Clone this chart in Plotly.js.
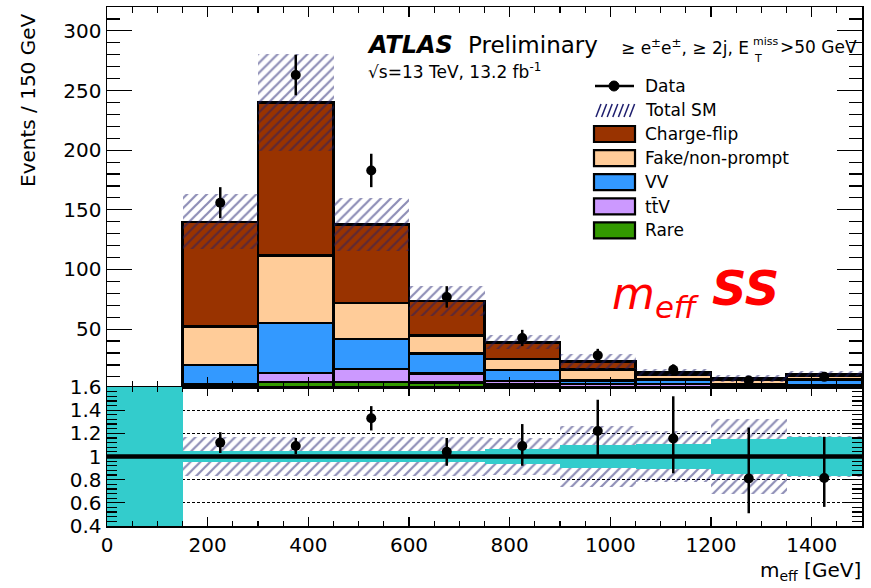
<!DOCTYPE html>
<html>
<head>
<meta charset="utf-8">
<script src="https://cdn.plot.ly/plotly-3.0.1.min.js"></script>
<style>
  html, body { margin: 0; padding: 0; background: #ffffff; }
  #chart { width: 871px; height: 588px; }
</style>
</head>
<body>
<div id="chart"></div>
<script>
// Binning in m_eff [GeV]: lower edges, 150 GeV wide
const binLow = [0, 150, 300, 450, 600, 750, 900, 1050, 1200, 1350];
const binWidth = 150;

// Stacked SM backgrounds, events / 150 GeV (bottom to top)
const rare       = [null, 1.4, 5.9, 5.9, 5.3, 3.4, 1.5, 1.7, 0.7, 1.3];
const ttV        = [null, 2.0, 7.3, 10.6, 7.6, 3.3, 2.5, 2.5, 1.0, 2.0];
const vv         = [null, 16.6, 41.8, 25.2, 16.8, 9.0, 3.0, 3.5, 2.0, 4.5];
const fake       = [null, 32.4, 56.8, 30.0, 14.8, 9.3, 9.0, 4.0, 4.0, 3.0];
const chargeFlip = [null, 87.6, 128.2, 65.8, 28.9, 14.0, 7.0, 2.0, 1.0, 1.5];

// Total SM uncertainty (half width of the hatched band)
const smUnc = [null, 23, 41, 22, 12.5, 6, 6, 3, 2.8, 2.2];

// Observed data
const dataVal = [null, 156, 263, 183, 77, 42.6, 28, 16, 7, 10];
const dataErr = [null, 13, 17, 14, 9, 6.8, 5.5, 4.5, 3, 3.5];

// Data / SM ratio panel
const ratioVal   = [null, 1.12, 1.09, 1.33, 1.04, 1.09, 1.22, 1.155, 0.81, 0.815];
const ratioErrUp = [null, 0.09, 0.07, 0.105, 0.12, 0.19, 0.27, 0.365, 0.44, 0.355];
const ratioErrDn = [null, 0.09, 0.07, 0.105, 0.12, 0.17, 0.22, 0.30, 0.30, 0.25];
const ratioStatBand = [0.6, 0.045, 0.045, 0.045, 0.05, 0.065, 0.10, 0.11, 0.15, 0.17];
const ratioSystBand = [null, 0.165, 0.165, 0.165, 0.165, 0.16, 0.26, 0.22, 0.32, 0.18];

// Legend entries
const legendNames = ['Charge-flip', 'Fake/non-prompt', 'VV', 'tt\u0304V', 'Rare'];
const legendColors = ['#993300', '#FFCC99', '#3399FF', '#CC99FF', '#339900'];

const FONT = 'DejaVu Sans';
const HATCH = '#1e1e6e';
const centers = binLow.map(v => v + binWidth / 2);

// ---- pixel -> paper helpers for decorations (legend, labels) ----
const ML = 107, MR = 9, MT = 7, MB = 62, W = 871, H = 588;
const PX = v => (v - ML) / (W - ML - MR);
const PY = v => (H - MB - v) / (H - MT - MB);
const ratioFrac = 139 / (H - MT - MB);

const hatchPattern = { shape: '/', fgcolor: HATCH, bgcolor: 'rgba(0,0,0,0)',
                       size: 7, solidity: 0.32, fillmode: 'overlay' };

const traces = [];

// stacked backgrounds
const stack = [
  [rare, '#339900'], [ttV, '#CC99FF'], [vv, '#3399FF'],
  [fake, '#FFCC99'], [chargeFlip, '#993300']
];
stack.forEach(([vals, col]) => {
  traces.push({
    type: 'bar', x: centers, y: vals, width: binWidth,
    xaxis: 'x', yaxis: 'y', hoverinfo: 'skip',
    marker: { color: col, line: { color: '#000000', width: 2.5 } }
  });
});

// total SM with hatched uncertainty band
const total = binLow.map((_, i) => i === 0 ? null :
  rare[i] + ttV[i] + vv[i] + fake[i] + chargeFlip[i]);
traces.push({
  type: 'bar', x: centers, width: binWidth,
  base: total.map((t, i) => t === null ? null : t - smUnc[i]),
  y: smUnc.map(u => u === null ? null : 2 * u),
  xaxis: 'x', yaxis: 'y', hoverinfo: 'skip',
  marker: { color: 'rgba(0,0,0,0)', line: { width: 0 }, pattern: hatchPattern }
});

// data points
traces.push({
  type: 'scatter', mode: 'markers', x: centers, y: dataVal,
  xaxis: 'x', yaxis: 'y', cliponaxis: false,
  marker: { color: '#000000', size: 10 },
  error_y: { type: 'data', array: dataErr, color: '#000000', thickness: 2.5, width: 0 }
});

// ratio: systematic (hatched) band
traces.push({
  type: 'bar', x: centers, width: binWidth,
  base: ratioSystBand.map(h => h === null ? null : 1 - h),
  y: ratioSystBand.map(h => h === null ? null : 2 * h),
  xaxis: 'x2', yaxis: 'y2', hoverinfo: 'skip',
  marker: { color: 'rgba(0,0,0,0)', line: { width: 0 }, pattern: hatchPattern }
});
// ratio: statistical (cyan) band
traces.push({
  type: 'bar', x: centers, width: binWidth,
  base: ratioStatBand.map(h => 1 - h),
  y: ratioStatBand.map(h => 2 * h),
  xaxis: 'x2', yaxis: 'y2', hoverinfo: 'skip',
  marker: { color: '#33CCCC', line: { width: 0 } }
});
// ratio data points
traces.push({
  type: 'scatter', mode: 'markers', x: centers, y: ratioVal,
  xaxis: 'x2', yaxis: 'y2', cliponaxis: true,
  marker: { color: '#000000', size: 10 },
  error_y: { type: 'data', symmetric: false, array: ratioErrUp, arrayminus: ratioErrDn,
             color: '#000000', thickness: 2.5, width: 0 }
});

const axisCommon = {
  showline: true, linecolor: '#000000', linewidth: 1.5, mirror: 'allticks',
  ticks: 'inside', tickcolor: '#000000', tickwidth: 1.2,
  showgrid: false, zeroline: false,
  tickfont: { family: FONT, size: 20, color: '#000000' }
};

const shapes = [];
const annotations = [];

// unit line in the ratio panel
shapes.push({ type: 'line', xref: 'x2 domain', yref: 'y2', x0: 0, x1: 1, y0: 1, y1: 1,
              line: { color: '#000000', width: 4.5 }, layer: 'above' });

// ---- legend ----
const legX0 = 594, legX1 = 635, legTextX = 643;
// Data
shapes.push({ type: 'line', xref: 'paper', yref: 'paper', x0: PX(595), x1: PX(634),
              y0: PY(86), y1: PY(86), line: { color: '#000', width: 2.5 } });
shapes.push({ type: 'circle', xref: 'paper', yref: 'paper', x0: PX(609), x1: PX(619),
              y0: PY(91), y1: PY(81), fillcolor: '#000', line: { color: '#000', width: 1 } });
annotations.push({ text: 'Data', xref: 'paper', yref: 'paper', x: PX(legTextX), y: PY(86),
                   xanchor: 'left', yanchor: 'middle', showarrow: false,
                   font: { family: FONT, size: 17, color: '#000' } });
// Total SM hatch swatch
for (let i = 0; i < 7; i++) {
  const xs = 596 + i * 5.6;
  shapes.push({ type: 'line', xref: 'paper', yref: 'paper', x0: PX(xs), x1: PX(xs + 5),
                y0: PY(117), y1: PY(104), line: { color: HATCH, width: 1.5 } });
}
annotations.push({ text: 'Total SM', xref: 'paper', yref: 'paper', x: PX(legTextX), y: PY(110),
                   xanchor: 'left', yanchor: 'middle', showarrow: false,
                   font: { family: FONT, size: 17, color: '#000' } });
// filled boxes
legendNames.forEach((name, i) => {
  const yc = 134 + i * 24.1;
  shapes.push({ type: 'rect', xref: 'paper', yref: 'paper', x0: PX(legX0), x1: PX(legX1),
                y0: PY(yc + 8), y1: PY(yc - 8), fillcolor: legendColors[i],
                line: { color: '#000', width: 2.2 } });
  annotations.push({ text: name, xref: 'paper', yref: 'paper', x: PX(legTextX), y: PY(yc),
                     xanchor: 'left', yanchor: 'middle', showarrow: false,
                     font: { family: FONT, size: 17, color: '#000' } });
});

// ---- header labels ----
annotations.push({ text: '<b><i>ATLAS</i></b>', xref: 'paper', yref: 'paper',
                   x: PX(365), y: PY(45), xanchor: 'left', yanchor: 'middle', showarrow: false,
                   font: { family: FONT, size: 24, color: '#000' } });
annotations.push({ text: 'Preliminary', xref: 'paper', yref: 'paper',
                   x: PX(466), y: PY(45), xanchor: 'left', yanchor: 'middle', showarrow: false,
                   font: { family: FONT, size: 23, color: '#000' } });
annotations.push({ text: '\u2265 e<sup>\u00b1</sup>e<sup>\u00b1</sup>, \u2265 2j, E',
                   xref: 'paper', yref: 'paper', x: PX(619), y: PY(47),
                   xanchor: 'left', yanchor: 'middle', showarrow: false,
                   font: { family: FONT, size: 17, color: '#000' } });
annotations.push({ text: 'miss', xref: 'paper', yref: 'paper', x: PX(751), y: PY(41),
                   xanchor: 'left', yanchor: 'middle', showarrow: false,
                   font: { family: FONT, size: 11, color: '#000' } });
annotations.push({ text: 'T', xref: 'paper', yref: 'paper', x: PX(752), y: PY(58),
                   xanchor: 'left', yanchor: 'middle', showarrow: false,
                   font: { family: FONT, size: 11, color: '#000' } });
annotations.push({ text: '>50 GeV', xref: 'paper', yref: 'paper', x: PX(778), y: PY(47),
                   xanchor: 'left', yanchor: 'middle', showarrow: false,
                   font: { family: FONT, size: 17, color: '#000' } });
annotations.push({ text: '\u221As=13 TeV, 13.2 fb<sup>-1</sup>', xref: 'paper', yref: 'paper',
                   x: PX(366), y: PY(71), xanchor: 'left', yanchor: 'middle', showarrow: false,
                   font: { family: FONT, size: 17, color: '#000' } });

// red region label
annotations.push({ text: '<i>m<sub>eff</sub></i>', xref: 'paper', yref: 'paper',
                   x: PX(610), y: PY(296), xanchor: 'left', yanchor: 'middle', showarrow: false,
                   font: { family: FONT, size: 44, color: '#FF0000' } });
annotations.push({ text: '<b><i>SS</i></b>', xref: 'paper', yref: 'paper',
                   x: PX(710), y: PY(288), xanchor: 'left', yanchor: 'middle', showarrow: false,
                   font: { family: FONT, size: 48, color: '#FF0000' } });

// axis titles
annotations.push({ text: 'Events / 150 GeV', xref: 'paper', yref: 'paper',
                   x: PX(28), y: PY(100), xanchor: 'center', yanchor: 'middle',
                   textangle: -90, showarrow: false,
                   font: { family: FONT, size: 20, color: '#000' } });
annotations.push({ text: 'm<sub>eff</sub> [GeV]', xref: 'paper', yref: 'paper',
                   x: PX(863), y: PY(571), xanchor: 'right', yanchor: 'middle', showarrow: false,
                   font: { family: FONT, size: 20, color: '#000' } });

const layout = {
  width: W, height: H,
  margin: { l: ML, r: MR, t: MT, b: MB, pad: 0 },
  paper_bgcolor: '#ffffff', plot_bgcolor: '#ffffff',
  barmode: 'stack', bargap: 0, showlegend: false,
  font: { family: FONT, size: 20, color: '#000000' },
  xaxis: Object.assign({}, axisCommon, {
    domain: [0, 1], anchor: 'y', range: [0, 1500], matches: 'x2',
    showticklabels: false, tick0: 0, dtick: 200, ticklen: 10,
    minor: { ticks: 'inside', dtick: 50, ticklen: 6, tickcolor: '#000', tickwidth: 1.2 }
  }),
  yaxis: Object.assign({}, axisCommon, {
    domain: [ratioFrac, 1], anchor: 'x', range: [1.5, 320],
    tick0: 0, dtick: 50, ticklen: 25,
    minor: { ticks: 'inside', dtick: 10, ticklen: 13, tickcolor: '#000', tickwidth: 1.2 }
  }),
  xaxis2: Object.assign({}, axisCommon, {
    domain: [0, 1], anchor: 'y2', range: [0, 1500],
    tick0: 0, dtick: 200, ticklen: 9,
    minor: { ticks: 'inside', dtick: 50, ticklen: 5, tickcolor: '#000', tickwidth: 1.2 }
  }),
  yaxis2: Object.assign({}, axisCommon, {
    domain: [0, ratioFrac], anchor: 'x2', range: [0.3999, 1.6001],
    tick0: 0.4, dtick: 0.2, ticklen: 18,
    showgrid: true, gridcolor: '#000000', gridwidth: 1, griddash: '3px,2px',
    minor: { ticks: 'inside', dtick: 0.04, ticklen: 10, tickcolor: '#000', tickwidth: 1.2 }
  }),
  shapes: shapes,
  annotations: annotations
};

Plotly.newPlot('chart', traces, layout, { staticPlot: true, displayModeBar: false });
</script>
</body>
</html>
